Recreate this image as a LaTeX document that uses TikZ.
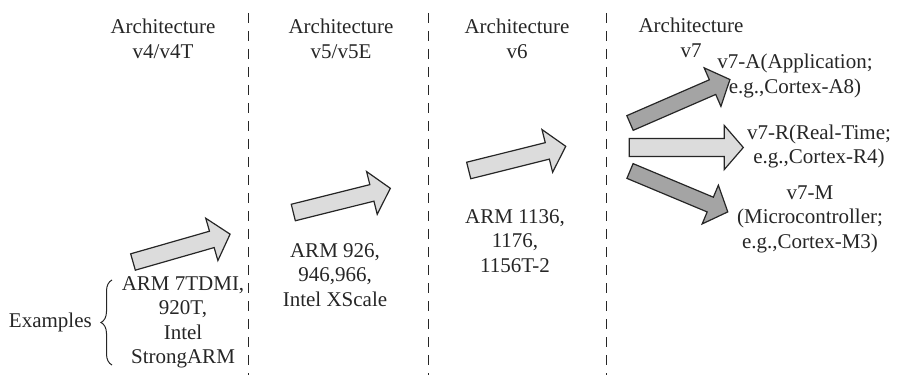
\documentclass[tikz,border=0pt]{standalone}
\usepackage{fontspec}
\setmainfont{Liberation Serif}
\usetikzlibrary{decorations.pathreplacing}
\definecolor{lightfill}{HTML}{DCDCDC}
\definecolor{darkfill}{HTML}{A4A4A4}
\definecolor{ink}{HTML}{262626}
\tikzset{
  pics/fatarrow/.style args={#1/#2/#3}{code={
    \draw[pic actions] (0,-#2) -- ({#1-19},-#2) -- ({#1-19},-#3) -- (#1,0)
      -- ({#1-19},#3) -- ({#1-19},#2) -- (0,#2) -- cycle;}},
  arr/.style={draw=ink, line width=1.2pt, line join=miter},
  lbl/.style={align=center, inner sep=0pt, text=ink,
    font=\fontsize{21}{24.5}\selectfont},
  sep/.style={draw=ink, line width=1pt, dash pattern=on 10pt off 8pt}
}
\begin{document}
\begin{tikzpicture}[x=1pt,y=1pt]
\useasboundingbox (0,0) rectangle (904,375);
% separators
\coordinate (s1t) at (248.3,362); \coordinate (s1b) at (248.3,0);
\coordinate (s2t) at (428,362);   \coordinate (s2b) at (428,0);
\coordinate (s3t) at (606,362);   \coordinate (s3b) at (606,0);
\draw[sep] (s1t) -- (s1b);
\draw[sep] (s2t) -- (s2b);
\draw[sep] (s3t) -- (s3b);
% titles
\node[lbl] (t1) at (163,336) {Architecture\\v4/v4T};
\node[lbl] (t2) at (341,336) {Architecture\\v5/v5E};
\node[lbl] (t3) at (517,336) {Architecture\\v6};
\node[lbl] (t4) at (691,337) {Architecture\\v7};
% examples
\node[lbl] (e1) at (183,52.5) {ARM 7TDMI,\\920T,\\Intel\\StrongARM};
\node[lbl] (e2) at (335,100) {ARM 926,\\946,966,\\Intel XScale};
\node[lbl] (e3) at (515,134) {ARM 1136,\\1176,\\1156T-2};
\node[lbl, anchor=east] (ex) at (92,53) {Examples};
\coordinate (bb) at (112,10); \coordinate (bt) at (112,95);
\draw[ink, line width=1pt, decorate, decoration={brace, amplitude=11pt}] (bb) -- (bt);
% v7 profiles
\node[lbl] (pa) at (795,299) {v7-A(Application;\\e.g.,Cortex-A8)};
\node[lbl] (pr) at (819,228.5) {v7-R(Real-Time;\\e.g.,Cortex-R4)};
\node[lbl] (pm) at (810,156) {v7-M\\(Microcontroller;\\e.g.,Cortex-M3)};
% arrows
\pic[arr, fill=lightfill, rotate=16] (a1) at (133,113) {fatarrow=101/8.5/22};
\pic[arr, fill=lightfill, rotate=14] (a2) at (293.3,162.5) {fatarrow=100/8.5/22};
\pic[arr, fill=lightfill, rotate=14] (a3) at (468.7,204.5) {fatarrow=100/8.5/22};
\pic[arr, fill=darkfill, rotate=23.5] (aa) at (630,252) {fatarrow=109/8/21};
\pic[arr, fill=lightfill, rotate=0] (ar) at (629.3,227.5) {fatarrow=114/9/22};
\pic[arr, fill=darkfill, rotate=-22.7] (am) at (630,204) {fatarrow=106/8/21};
\end{tikzpicture}
\end{document}
